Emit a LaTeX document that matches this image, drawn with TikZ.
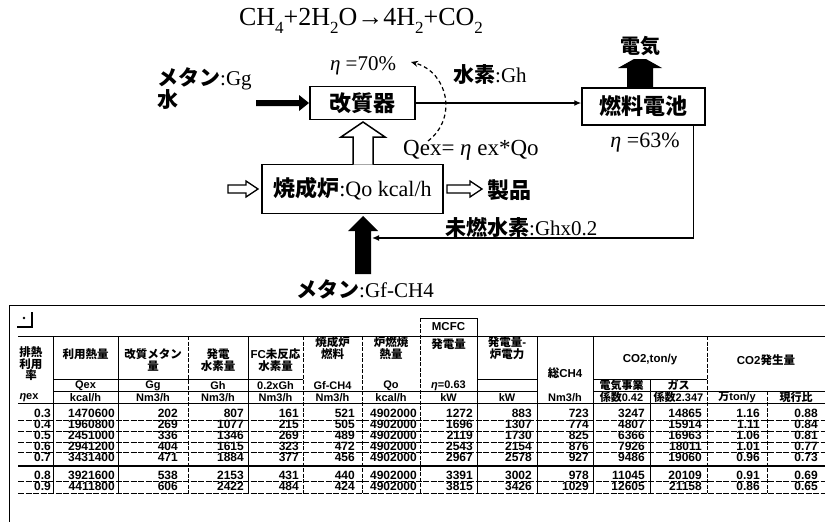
\documentclass[tikz,border=0pt]{standalone}
\usepackage{fontspec}
\setmainfont{Liberation Serif}
\setsansfont{Liberation Sans}
\newfontfamily\jp{Noto Sans CJK JP}
\usetikzlibrary{arrows.meta}
\newcommand\J[1]{{\jp\bfseries #1}}
\newcommand\sbx[1]{\raisebox{-0.32em}{\fontsize{17}{17}\selectfont #1}}
\begin{document}
\begin{tikzpicture}[x=1pt,y=-1pt,
  box/.style={draw, line width=1.5pt, inner sep=0pt},
  lbl/.style={inner sep=0pt, font=\fontsize{21}{24}\selectfont},
  th/.style={inner sep=0pt, align=center, font=\sffamily\bfseries\fontsize{11.5}{11.5}\selectfont},
  num/.style={inner sep=0pt, anchor=east, font=\sffamily\bfseries\fontsize{12}{12}\selectfont},
  grid/.style={line width=0.9pt},
  dgrid/.style={line width=0.9pt, dash pattern=on 4pt off 1.5pt},
  rgrid/.style={line width=0.7pt, dash pattern=on 6pt off 1.5pt},
  conn/.style={line width=1.3pt, -{Latex[length=7pt,width=6pt]}}
]
\useasboundingbox (0,0) rectangle (825,522);

% ---------------- diagram ----------------
\node[inner sep=0pt, font=\fontsize{26}{30}\selectfont] (eq) at (361,21)
  {CH\sbx{4}+2H\sbx{2}O→4H\sbx{2}+CO\sbx{2}};

\node[box, minimum width=105pt, minimum height=33pt] (kai) at (362.5,103)
  {\fontsize{22}{22}\selectfont\J{改質器}};
\node[box, minimum width=123pt, minimum height=37pt] (fc) at (643.5,106.5)
  {\fontsize{22}{22}\selectfont\J{燃料電池}};
\node[box, minimum width=181pt, minimum height=49pt] (sho) at (352.5,189)
  {\fontsize{22}{24}\selectfont\J{焼成炉}:Qo kcal/h};

\node[lbl, anchor=west] (mGg) at (157,79) {\J{メタン}:Gg};
\node[lbl, anchor=west] (mizu) at (157,100) {\J{水}};
\node[lbl] (eta70) at (363,66) {\textit{η} =70\%};
\node[lbl, anchor=west] (suiso) at (453,75) {\J{水素}:Gh};
\node[inner sep=0pt, font=\fontsize{20}{20}\selectfont] (denki) at (640,46) {\J{電気}};
\node[lbl, font=\fontsize{22}{24}\selectfont] (eta63) at (645,143) {\textit{η} =63\%};
\node[lbl, anchor=west, font=\fontsize{23}{24}\selectfont] (qex) at (403,150) {Qex= \textit{η} ex*Qo};
\node[lbl, anchor=west, font=\fontsize{22}{24}\selectfont] (seihin) at (487,190) {\J{製品}};
\node[lbl, anchor=west] (minen) at (445,227) {\J{未燃水素}:Ghx0.2};
\node[lbl] (mGf) at (365,289) {\J{メタン}:Gf-CH4};

% thick black arrow into reformer
\fill (256,100) -- (299,100) -- (299,95) -- (309,103) -- (299,111) -- (299,106) -- (256,106) -- cycle;
% reformer -> fuel cell
\draw[conn] (kai.east) -- (fc.west |- kai.east);
% electricity arrow
\fill (627,88) -- (627,68) -- (618,68) -- (634,59) -- (646,59) -- (662,68) -- (653,68) -- (653,88) -- cycle;
% hollow up arrow kiln -> reformer
\draw[line width=1.5pt, fill=white] (353,164.5) -- (353,137) -- (341,137) -- (363,122) -- (385,137) -- (373,137) -- (373,164.5);
% thick black up arrow into kiln
\fill (355,274) -- (355,231) -- (348,231) -- (363,216) -- (378,231) -- (371,231) -- (371,274) -- cycle;
% hollow small arrows
\draw[line width=1.3pt, fill=white] (228,185) -- (246,185) -- (246,181) -- (258,189) -- (246,197) -- (246,193) -- (228,193) -- cycle;
\draw[line width=1.3pt, fill=white] (447,185) -- (470,185) -- (470,181) -- (482,189) -- (470,197) -- (470,193) -- (447,193) -- cycle;
% return line
\coordinate (retEnd) at (372,238);
\draw[conn] ([xshift=-12pt]fc.south east) |- (retEnd);
% dashed heat curve
\coordinate (dS) at (428,141);
\coordinate (dE) at (411,62);
\draw[line width=1.2pt, dash pattern=on 4pt off 3pt, -{Stealth[length=7pt,width=6pt]}]
  (dS) .. controls (458,118) and (448,72) .. (dE);

% ---------------- table ----------------
\draw[grid] (9,305) -- (825,305);
\draw[grid] (9,305) -- (9,522);
\fill (24,318) circle (1.3pt);
\draw[line width=1.2pt] (17,327) -- (32,327) -- (32,312);

\draw[grid] (18,336) -- (825,336);
\draw[grid] (420,318) -- (477,318);
\draw[grid] (53,379) -- (303,379);
\draw[grid] (477,379) -- (537,379);
\draw[grid] (593,379) -- (707,379);
\draw[grid] (53,391) -- (537,391);
\draw[grid] (593,391) -- (825,391);
\draw[grid] (18,403) -- (825,403);
\foreach \yy in {420,431,442,452.5,481.5,493} \draw[rgrid] (18,\yy) -- (825,\yy);
\draw[line width=1.4pt] (18,466) -- (825,466);

\foreach \xx in {53,118,248,537,593} \draw[grid] (\xx,336) -- (\xx,493);
\foreach \xx in {188,303,362,707} \draw[dgrid] (\xx,336) -- (\xx,493);
\draw[dgrid] (420,318) -- (420,493);
\draw[grid] (477,318) -- (477,493);
\draw[grid] (650,379) -- (650,493);
\draw[dgrid] (767,391) -- (767,493);

% header
\node[th] (hA) at (31,364) {\J{排熱}\\\J{利用}\\\J{率}};
\node[th] (hB) at (85.5,354) {\J{利用熱量}};
\node[th] (hC) at (153,360) {\J{改質メタン}\\\J{量}};
\node[th] (hD) at (218,360) {\J{発電}\\\J{水素量}};
\node[th] (hE) at (275.5,360) {FC\J{未反応}\\\J{水素量}};
\node[th] (hF) at (332.5,348) {\J{焼成炉}\\\J{燃料}};
\node[th] (hG) at (391,348) {\J{炉燃焼}\\\J{熱量}};
\node[th] (hH0) at (448.5,327) {MCFC};
\node[th] (hH) at (448.5,344) {\J{発電量}};
\node[th] (hI) at (507,348) {\J{発電量}-\\\J{炉電力}};
\node[th] (hJ) at (565,373) {\J{総}CH4};
\node[th] (hK) at (650,360) {CO2,ton/y};
\node[th] (hM) at (766,360) {CO2\J{発生量}};
\foreach \xx/\txt [count=\k] in {85.5/{Qex}, 153/{Gg}, 218/{Gh}, 275.5/{0.2xGh}, 332.5/{Gf-CH4}, 391/{Qo},
   448.5/{\textit{η}=0.63}, 621.5/{\J{電気事業}}, 678.5/{\J{ガス}}}
  \node[th, font=\sffamily\bfseries\fontsize{11}{11}\selectfont] (s\k) at (\xx,385.5) {\txt};
\foreach \xx/\txt [count=\k] in {29/{\textit{η}ex}, 85.5/{kcal/h}, 153/{Nm3/h}, 218/{Nm3/h}, 275.5/{Nm3/h},
   332.5/{Nm3/h}, 391/{kcal/h}, 448.5/{kW}, 507/{kW}, 565/{Nm3/h}, 621.5/{\J{係数}0.42},
   678.5/{\J{係数}2.347}, 737/{\J{万}ton/y}, 796/{\J{現行比}}}
  \node[th, font=\sffamily\bfseries\fontsize{11}{11}\selectfont] (u\k) at (\xx,397.5) {\txt};

% data
\foreach \yy/\va/\vb/\vc/\vd/\ve/\vf/\vg/\vh/\vi/\vj/\vk/\vl/\vm/\vn [count=\rr] in {
 413.5/0.3/1470600/202/807/161/521/4902000/1272/883/723/3247/14865/1.16/0.88,
 424.5/0.4/1960800/269/1077/215/505/4902000/1696/1307/774/4807/15914/1.11/0.84,
 435.5/0.5/2451000/336/1346/269/489/4902000/2119/1730/825/6366/16963/1.06/0.81,
 446/0.6/2941200/404/1615/323/472/4902000/2543/2154/876/7926/18011/1.01/0.77,
 457.5/0.7/3431400/471/1884/377/456/4902000/2967/2578/927/9486/19060/0.96/0.73,
 475/0.8/3921600/538/2153/431/440/4902000/3391/3002/978/11045/20109/0.91/0.69,
 486.5/0.9/4411800/606/2422/484/424/4902000/3815/3426/1029/12605/21158/0.86/0.65}{
  \node[num] (d\rr a) at (51,\yy) {\va};
  \node[num] (d\rr b) at (115,\yy) {\vb};
  \node[num] (d\rr c) at (178,\yy) {\vc};
  \node[num] (d\rr d) at (244,\yy) {\vd};
  \node[num] (d\rr e) at (299,\yy) {\ve};
  \node[num] (d\rr f) at (355,\yy) {\vf};
  \node[num] (d\rr g) at (417,\yy) {\vg};
  \node[num] (d\rr h) at (473,\yy) {\vh};
  \node[num] (d\rr i) at (532,\yy) {\vi};
  \node[num] (d\rr j) at (589,\yy) {\vj};
  \node[num] (d\rr k) at (645,\yy) {\vk};
  \node[num] (d\rr l) at (702,\yy) {\vl};
  \node[num] (d\rr m) at (760,\yy) {\vm};
  \node[num] (d\rr n) at (818,\yy) {\vn};
}
\end{tikzpicture}
\end{document}
